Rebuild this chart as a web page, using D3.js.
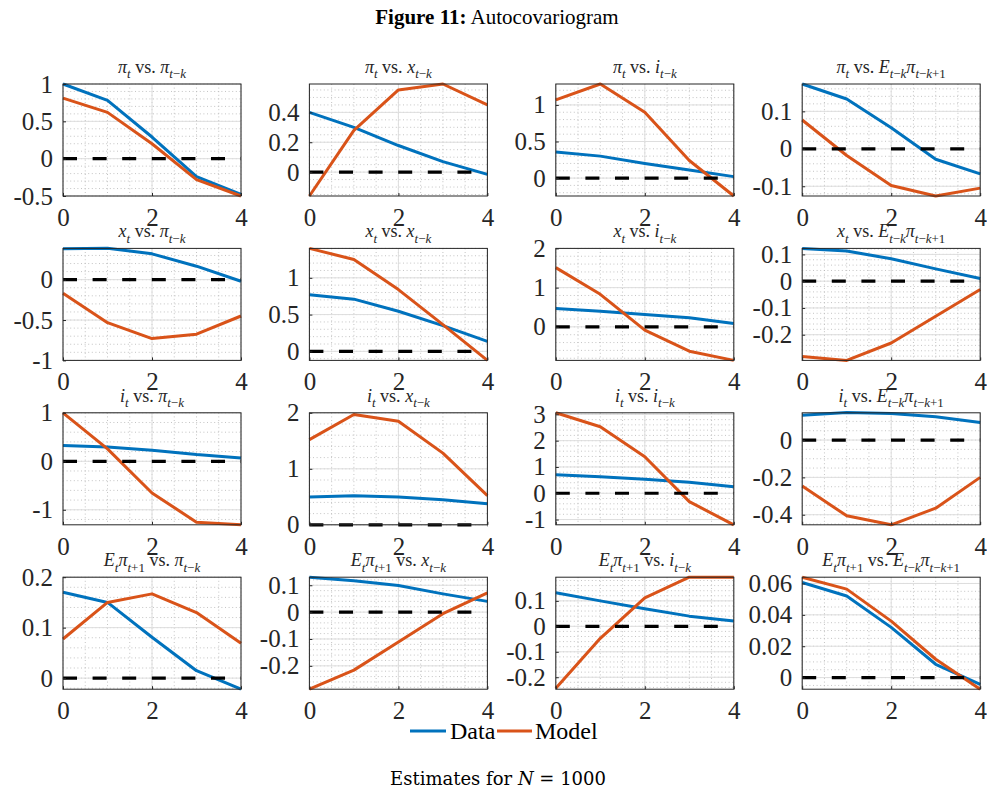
<!DOCTYPE html>
<html>
<head>
<meta charset="utf-8">
<script src="https://cdn.jsdelivr.net/npm/d3@7/dist/d3.min.js"></script>
<style>
  body { margin: 0; background: #fff; }
  svg { display: block; }
  text { font-family: "Liberation Serif", "DejaVu Serif", serif; }
</style>
</head>
<body>
<svg id="chart" width="987" height="791"></svg>
<script>
// lags on the x axis
var lags = [0, 1, 2, 3, 4];

// panel title pieces: [base, subscript]
var leftVars = [
  [["π", "t"]],
  [["x", "t"]],
  [["i", "t"]],
  [["E", "t"], ["π", "t+1"]]
];
var rightVars = [
  [["π", "t−k"]],
  [["x", "t−k"]],
  [["i", "t−k"]],
  [["E", "t−k"], ["π", "t−k+1"]]
];

// series values, row by row (left var), then column (right var)
var dataValues = [
  [1.00, 0.78, 0.29, -0.24, -0.48],
  [0.40, 0.30, 0.178, 0.07, -0.015],
  [0.355, 0.30, 0.20, 0.11, 0.02],
  [0.173, 0.133, 0.056, -0.028, -0.067],

  [0.383, 0.39, 0.32, 0.167, -0.02],
  [0.77, 0.71, 0.545, 0.35, 0.136],
  [0.47, 0.40, 0.316, 0.23, 0.085],
  [0.1225, 0.1125, 0.084, 0.046, 0.01],

  [0.324, 0.297, 0.228, 0.138, 0.069],
  [0.495, 0.52, 0.495, 0.448, 0.376],
  [0.70, 0.63, 0.53, 0.42, 0.25],
  [0.133, 0.148, 0.142, 0.125, 0.094],

  [0.17, 0.15, 0.081, 0.0146, -0.022],
  [0.13, 0.117, 0.099, 0.068, 0.04],
  [0.132, 0.10, 0.069, 0.04, 0.021],
  [0.0606, 0.052, 0.032, 0.0085, -0.0043]
];

var modelValues = [
  [0.81, 0.62, 0.20, -0.28, -0.50],
  [-0.16, 0.28, 0.55, 0.59, 0.45],
  [1.07, 1.286, 0.90, 0.24, -0.245],
  [0.077, -0.018, -0.098, -0.126, -0.105],

  [-0.167, -0.533, -0.73, -0.675, -0.45],
  [1.40, 1.25, 0.84, 0.364, -0.123],
  [1.51, 0.83, -0.085, -0.62, -0.855],
  [-0.281, -0.296, -0.231, -0.131, -0.031],

  [1.00, 0.255, -0.655, -1.255, -1.31],
  [1.52, 1.97, 1.85, 1.28, 0.52],
  [3.06, 2.53, 1.39, -0.32, -1.20],
  [-0.246, -0.406, -0.454, -0.365, -0.20],

  [0.0775, 0.15, 0.167, 0.13, 0.069],
  [-0.287, -0.216, -0.111, -0.006, 0.072],
  [-0.243, -0.047, 0.112, 0.193, 0.193],
  [0.064, 0.0564, 0.036, 0.0117, -0.0074]
];

var yLimits = [
  [-0.5, 1.0], [-0.16, 0.59], [-0.245, 1.286], [-0.126, 0.173],
  [-1.0, 0.3875], [-0.123, 1.40], [-0.855, 2.0], [-0.296, 0.1225],
  [-1.31, 1.0], [0, 2.0], [-1.2, 3.06], [-0.454, 0.146],
  [-0.022, 0.2], [-0.287, 0.13], [-0.247, 0.193], [-0.0074, 0.064]
];

var yTickValues = [
  [-0.5, 0, 0.5, 1], [0, 0.2, 0.4], [0, 0.5, 1], [-0.1, 0, 0.1],
  [-1, -0.5, 0], [0, 0.5, 1], [0, 1, 2], [-0.2, -0.1, 0, 0.1],
  [-1, 0, 1], [0, 1, 2], [-1, 0, 1, 2, 3], [-0.4, -0.2, 0],
  [0, 0.1, 0.2], [-0.2, -0.1, 0, 0.1], [-0.2, -0.1, 0, 0.1], [0, 0.02, 0.04, 0.06]
];

var xTickValues = [0, 2, 4];
var seriesNames = ["Data", "Model"];

var blue = "#0072BD",
    orange = "#D95319",
    ink = "#262626";

var svg = d3.select("#chart");

var panelW = 178, panelH = 112,
    left0 = 63, top0 = 84,
    stepX = 246.4, stepY = 164.4;

// heading
var head = svg.append("text")
    .attr("x", 497).attr("y", 24)
    .attr("text-anchor", "middle")
    .style("font-size", "21px")
    .attr("fill", "#000");
head.append("tspan").style("font-weight", "bold").text("Figure 11:");
head.append("tspan").text(" Autocovariogram");

// italic base letters with subscripts; no empty tspans
function mathText(sel, pieces, size) {
  var sub = size * 0.72, shift = size * 0.3, lowered = false;
  function span(txt, fs, italic) {
    return sel.append("tspan")
        .style("font-size", fs + "px")
        .style("font-style", italic ? "italic" : "normal")
        .text(txt);
  }
  pieces.forEach(function(p) {
    if (typeof p === "string") {
      var t = span(p, size, false);
      if (lowered) { t.attr("dy", -shift); lowered = false; }
      return;
    }
    var b = span(p[0], size, true);
    if (lowered) { b.attr("dy", -shift); lowered = false; }
    p[1].split("").forEach(function(c, i) {
      var t = span(c, sub, /[a-z]/.test(c));
      if (i === 0) { t.attr("dy", shift); lowered = true; }
    });
  });
}

function minorStep(ticks) {
  var step = ticks[1] - ticks[0];
  var m = step / Math.pow(10, Math.floor(Math.log10(step) + 1e-9));
  return Math.abs(m - 2) < 1e-6 ? step / 4 : step / 5;
}

for (var r = 0; r < 4; r++) {
  for (var c = 0; c < 4; c++) {
    drawPanel(r, c, r * 4 + c);
  }
}

function drawPanel(r, c, k) {
  var g = svg.append("g")
      .attr("transform", "translate(" + (left0 + c * stepX) + "," + (top0 + r * stepY) + ")");

  var x = d3.scaleLinear().domain([0, 4]).range([0, panelW]);
  var y = d3.scaleLinear().domain(yLimits[k]).range([panelH, 0]);

  // minor grid
  var xm = d3.range(0, 4.0001, 0.5);
  var ms = minorStep(yTickValues[k]);
  var ym = d3.range(Math.ceil(yLimits[k][0] / ms) * ms, yLimits[k][1] + 1e-9, ms);

  g.selectAll(".xminor").data(xm).enter().append("line")
      .attr("x1", x).attr("x2", x).attr("y1", 0).attr("y2", panelH)
      .attr("stroke", "#b5b5b5").attr("stroke-width", 0.8).attr("stroke-dasharray", "1,2.6");
  g.selectAll(".yminor").data(ym).enter().append("line")
      .attr("y1", y).attr("y2", y).attr("x1", 0).attr("x2", panelW)
      .attr("stroke", "#b5b5b5").attr("stroke-width", 0.8).attr("stroke-dasharray", "1,2.6");

  // major grid
  g.selectAll(".xgrid").data(xTickValues).enter().append("line")
      .attr("x1", x).attr("x2", x).attr("y1", 0).attr("y2", panelH)
      .attr("stroke", "#dedede").attr("stroke-width", 1);
  g.selectAll(".ygrid").data(yTickValues[k]).enter().append("line")
      .attr("y1", y).attr("y2", y).attr("x1", 0).attr("x2", panelW)
      .attr("stroke", "#dedede").attr("stroke-width", 1);

  var line = d3.line()
      .x(function(d, i) { return x(lags[i]); })
      .y(function(d) { return y(d); });

  g.append("path").datum(dataValues[k])
      .attr("d", line).attr("fill", "none")
      .attr("stroke", blue).attr("stroke-width", 3).attr("stroke-linejoin", "round");
  g.append("path").datum(modelValues[k])
      .attr("d", line).attr("fill", "none")
      .attr("stroke", orange).attr("stroke-width", 3).attr("stroke-linejoin", "round");

  // zero reference
  g.append("line")
      .attr("x1", x(0)).attr("x2", x(4)).attr("y1", y(0)).attr("y2", y(0))
      .attr("stroke", "#000").attr("stroke-width", 3.2).attr("stroke-dasharray", "14,15.6");

  // axes
  var yAxis = d3.axisLeft(y).tickValues(yTickValues[k]).tickSizeInner(-3).tickSizeOuter(0)
      .tickPadding(10).tickFormat(function(d) { return String(d); });
  var xAxis = d3.axisBottom(x).tickValues(xTickValues).tickSizeInner(-3).tickSizeOuter(0)
      .tickPadding(12).tickFormat(function(d) { return String(d); });

  var ya = g.append("g").call(yAxis);
  var xa = g.append("g").attr("transform", "translate(0," + panelH + ")").call(xAxis);
  [ya, xa].forEach(function(a) {
    a.select(".domain").remove();
    a.selectAll("line").attr("stroke", ink);
    a.selectAll("text")
        .attr("fill", ink)
        .style("font-family", "'Liberation Serif', serif")
        .style("font-size", "25px");
  });

  g.append("rect")
      .attr("width", panelW).attr("height", panelH)
      .attr("fill", "none").attr("stroke", ink).attr("stroke-width", 1);

  var title = g.append("text")
      .attr("x", panelW / 2).attr("y", -11)
      .attr("text-anchor", "middle")
      .style("font-size", "18px")
      .attr("fill", ink);
  mathText(title, leftVars[r].concat([" vs.  "]).concat(rightVars[c]), 18);
}

// legend
var legend = svg.append("g").attr("transform", "translate(0,731)");
var legendX = [[410, 446, 450], [497, 532, 535]];
seriesNames.forEach(function(name, i) {
  legend.append("line")
      .attr("x1", legendX[i][0]).attr("x2", legendX[i][1])
      .attr("stroke", i === 0 ? blue : orange).attr("stroke-width", 3);
  legend.append("text")
      .attr("x", legendX[i][2]).attr("y", 8)
      .style("font-size", "24px")
      .attr("fill", "#000")
      .text(name);
});

// footnote
var foot = svg.append("text")
    .attr("x", 498).attr("y", 785)
    .attr("text-anchor", "middle")
    .style("font-family", "'DejaVu Serif', serif")
    .style("font-size", "18px")
    .attr("fill", "#000");
foot.append("tspan").text("Estimates for ");
foot.append("tspan").style("font-style", "italic").text("N");
foot.append("tspan").text(" = 1000");
</script>
</body>
</html>
